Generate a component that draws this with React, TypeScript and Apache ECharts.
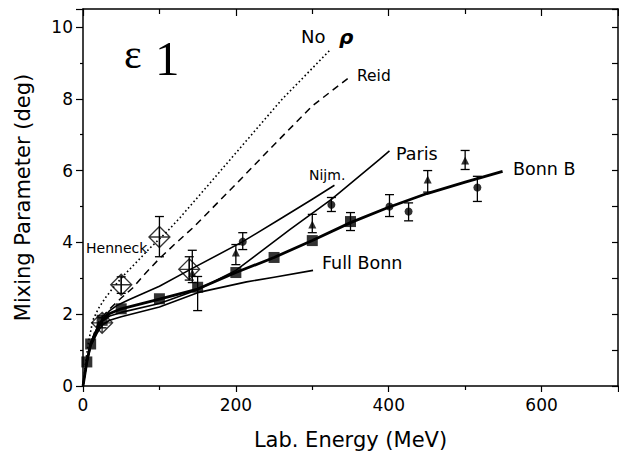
import React, { useEffect, useRef } from "react";
import * as echarts from "echarts";

// ---- data ----
const noRhoCurve: number[][] = [
  [0, 0], [3, 0.6], [7, 1.2], [13, 1.84], [20, 2.15], [29, 2.45], [40, 2.75], [52, 3.05], [70, 3.45], [88, 3.85],
  [110, 4.3], [127, 4.69], [160, 5.5], [200, 6.49], [261, 8.0], [323, 9.35],
];
const reidCurve: number[][] = [
  [0, 0], [5, 0.65], [10, 1.15], [16, 1.55], [22, 1.85], [35, 2.15], [50, 2.45], [65, 2.73], [80, 3.1], [100, 3.55],
  [120, 3.95], [144, 4.41], [200, 5.62], [250, 6.72], [300, 7.8], [351, 8.64],
];
const nijmCurve: number[][] = [
  [0, 0], [5, 0.7], [10, 1.2], [18, 1.6], [25, 1.85], [35, 2.1], [45, 2.25], [60, 2.4], [100, 2.78], [140, 3.24],
  [209, 4.02], [260, 4.68], [300, 5.2], [329, 5.59],
];
const parisCurve: number[][] = [
  [0, 0], [5, 0.68], [10, 1.15], [18, 1.55], [25, 1.8], [35, 1.95], [50, 2.05], [100, 2.3], [150, 2.68], [200, 3.22],
  [271, 4.36], [325, 5.2], [388, 6.31], [401, 6.55],
];
const bonnBCurve: number[][] = [
  [0, 0], [5, 0.67], [10, 1.17], [18, 1.55], [25, 1.83], [35, 2.02], [50, 2.15], [100, 2.42], [150, 2.7], [200, 3.16],
  [250, 3.58], [300, 4.05], [350, 4.55], [400, 4.98], [450, 5.36], [500, 5.68], [549, 5.98],
];
const fullBonnCurve: number[][] = [
  [0, 0], [5, 0.65], [10, 1.1], [18, 1.45], [25, 1.7], [35, 1.83], [50, 1.93], [100, 2.2], [150, 2.6], [214, 2.9],
  [250, 3.03], [301, 3.22],
];

const squarePoints: number[][] = [
  [5, 0.67], [10, 1.17], [25, 1.83], [50, 2.15], [100, 2.43], [150, 2.75], [200, 3.16], [250, 3.58], [300, 4.05], [350, 4.58],
];
const squareErrors: number[][] = [
  [150, 2.75, 2.1, 3.05], [350, 4.58, 4.33, 4.83],
];
const circlePoints: number[][] = [
  [209, 4.02], [325, 5.05], [401, 5.0], [426, 4.86], [516, 5.53],
];
const circleErrors: number[][] = [
  [209, 4.02, 3.8, 4.27], [325, 5.05, 4.86, 5.25], [401, 5.0, 4.72, 5.33], [426, 4.86, 4.6, 5.1], [516, 5.53, 5.14, 5.84],
];
const trianglePoints: number[][] = [
  [143, 3.15], [200, 3.72], [300, 4.5], [451, 5.75], [500, 6.28],
];
const triangleErrors: number[][] = [
  [143, 3.15, 2.88, 3.78], [200, 3.72, 3.38, 3.94], [300, 4.5, 4.27, 4.78], [451, 5.75, 5.4, 6.0], [500, 6.28, 6.03, 6.56],
];
const henneckPoints: number[][] = [
  [25, 1.76], [50, 2.82], [100, 4.15], [139, 3.25],
];
const henneckErrors: number[][] = [
  [25, 1.76, 1.62, 1.9], [50, 2.82, 2.58, 3.04], [100, 4.15, 3.6, 4.72], [139, 3.25, 2.95, 3.6],
];

const xTicks = [0, 200, 400, 600];
const yTicks = [0, 2, 4, 6, 8, 10];

const FONT = "DejaVu Sans";

export default function App() {
  const ref = useRef<HTMLDivElement>(null);
  useEffect(() => {
    if (!ref.current) return;
    const chart = echarts.init(ref.current, undefined, { renderer: "svg" });

    const lineSeries = (data: number[][], width: number, type: any) => ({
      type: "line",
      data,
      showSymbol: false,
      smooth: false,
      lineStyle: { color: "#000", width, type, join: "round" },
      z: 2,
      silent: true,
    });

    const errorBars = (data: number[][]) => ({
      type: "custom",
      data,
      encode: { x: 0, y: [2, 3] },
      z: 3,
      silent: true,
      renderItem: (params: any, api: any) => {
        const x = api.value(0);
        const lo = api.coord([x, api.value(2)]);
        const hi = api.coord([x, api.value(3)]);
        const w = 4.5;
        const st = { stroke: "#000", lineWidth: 1.3 };
        return {
          type: "group",
          children: [
            { type: "line", shape: { x1: hi[0], y1: hi[1], x2: lo[0], y2: lo[1] }, style: st },
            { type: "line", shape: { x1: hi[0] - w, y1: hi[1], x2: hi[0] + w, y2: hi[1] }, style: st },
            { type: "line", shape: { x1: lo[0] - w, y1: lo[1], x2: lo[0] + w, y2: lo[1] }, style: st },
          ],
        };
      },
    });

    const textStyle = { color: "#000", fontFamily: FONT };

    const label = (text: string, x: number, y: number, size: number, extra: any = {}) => ({
      type: "text",
      x,
      y,
      style: { text, fill: "#000", font: `${size}px '${FONT}'`, verticalAlign: "middle", ...extra },
      z: 10,
    });

    chart.setOption({
      animation: false,
      backgroundColor: "#fff",
      grid: { left: 83, right: 1, top: 9, bottom: 67, outerBoundsMode: "none", containLabel: false },
      xAxis: [
        {
          type: "value",
          min: 0,
          max: 700,
          interval: 200,
          position: "bottom",
          name: "Lab. Energy (MeV)",
          nameLocation: "middle",
          nameGap: 43,
          nameTextStyle: { ...textStyle, fontSize: 21 },
          axisLine: { show: true, onZero: false, lineStyle: { color: "#000", width: 1.5 } },
          axisTick: { show: true, length: 6, lineStyle: { color: "#000", width: 1.2 } },
          minorTick: { show: true, splitNumber: 2, length: 4, lineStyle: { color: "#000", width: 1.2 } },
          axisLabel: {
            ...textStyle,
            fontSize: 17,
            margin: 10,
            formatter: (v: number) => (xTicks.includes(v) ? String(v) : ""),
          },
          splitLine: { show: false },
        },
        {
          type: "value",
          min: 0,
          max: 700,
          interval: 200,
          position: "top",
          axisLine: { show: true, onZero: false, lineStyle: { color: "#000", width: 1.5 } },
          axisTick: { show: true, inside: true, length: 7, lineStyle: { color: "#000", width: 1.2 } },
          minorTick: { show: true, splitNumber: 2, length: 5, lineStyle: { color: "#000", width: 1.2 } },
          axisLabel: { show: false },
          splitLine: { show: false },
        },
      ],
      yAxis: [
        {
          type: "value",
          min: 0,
          max: 10.5,
          interval: 2,
          position: "left",
          name: "Mixing Parameter (deg)",
          nameLocation: "middle",
          nameGap: 50,
          nameTextStyle: { ...textStyle, fontSize: 21 },
          axisLine: { show: true, onZero: false, lineStyle: { color: "#000", width: 1.5 } },
          axisTick: { show: true, length: 7, lineStyle: { color: "#000", width: 1.2 } },
          minorTick: { show: true, splitNumber: 2, length: 3, lineStyle: { color: "#000", width: 1.2 } },
          axisLabel: {
            ...textStyle,
            fontSize: 17,
            margin: 10,
            formatter: (v: number) => (yTicks.includes(v) ? String(v) : ""),
          },
          splitLine: { show: false },
        },
        {
          type: "value",
          min: 0,
          max: 10.5,
          interval: 1,
          position: "right",
          axisLine: { show: true, onZero: false, lineStyle: { color: "#000", width: 1.5 } },
          axisTick: { show: true, inside: true, length: 6, lineStyle: { color: "#000", width: 1.2 } },
          axisLabel: { show: false },
          splitLine: { show: false },
        },
      ],
      series: [
        lineSeries(noRhoCurve, 1.6, [1.6, 2.6]),
        lineSeries(reidCurve, 1.5, [7, 5]),
        lineSeries(nijmCurve, 1.6, "solid"),
        lineSeries(parisCurve, 1.6, "solid"),
        lineSeries(fullBonnCurve, 1.6, "solid"),
        lineSeries(bonnBCurve, 2.8, "solid"),
        errorBars(squareErrors),
        errorBars(circleErrors),
        errorBars(triangleErrors),
        errorBars(henneckErrors),
        {
          type: "scatter",
          data: henneckPoints,
          symbol: "path://M10,0L20,10L10,20L0,10Z M10,0L10,20 M0,10L20,10",
          symbolSize: 21,
          itemStyle: { color: "rgba(255,255,255,0)", borderColor: "#000", borderWidth: 1.3 },
          z: 4,
          silent: true,
        },
        {
          type: "scatter",
          data: squarePoints,
          symbol: "rect",
          symbolSize: 11,
          itemStyle: { color: "#000" },
          z: 5,
          silent: true,
        },
        {
          type: "scatter",
          data: circlePoints,
          symbol: "circle",
          symbolSize: 8,
          itemStyle: { color: "#000" },
          z: 5,
          silent: true,
        },
        {
          type: "scatter",
          data: trianglePoints,
          symbol: "triangle",
          symbolSize: 8,
          itemStyle: { color: "#000" },
          z: 5,
          silent: true,
        },
      ],
      graphic: [
        { type: "text", x: 124, y: 54, style: { text: "ε", fill: "#000", font: "42px 'Liberation Serif'", verticalAlign: "middle" }, z: 10 },
        { type: "text", x: 155, y: 83, style: { text: "1", fill: "#000", font: "49px 'Liberation Serif'", verticalAlign: "bottom" }, z: 10 },
        label("No", 301, 36, 18),
        { type: "text", x: 339, y: 37, style: { text: "ρ", fill: "#000", font: `italic bold 20px '${FONT}'`, verticalAlign: "middle" }, z: 10 },
        label("Reid", 357, 76, 15.5),
        label("Paris", 396, 154, 17.5),
        label("Nijm.", 309, 175, 14),
        label("Bonn B", 513, 169, 17.5),
        label("Full Bonn", 322, 263, 17.5),
        label("Henneck", 86, 248, 14),
      ],
    });
    return () => chart.dispose();
  }, []);
  return <div ref={ref} style={{ position: "absolute", left: 0, top: 0, width: 619, height: 453 }} />;
}
